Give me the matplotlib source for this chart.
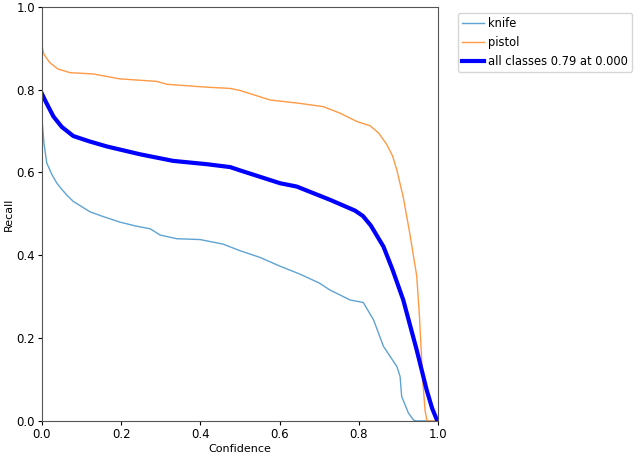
import matplotlib
matplotlib.use("Agg")
import matplotlib.pyplot as plt

# recall vs confidence
knife_conf = [0.0, 0.005, 0.012, 0.025, 0.037, 0.045, 0.062, 0.079, 0.096,
              0.121, 0.15, 0.197, 0.24, 0.273, 0.298, 0.34, 0.399, 0.457,
              0.5, 0.55, 0.6, 0.65, 0.7, 0.727, 0.778, 0.811, 0.837, 0.862,
              0.896, 0.904, 0.908, 0.925, 0.938, 0.945, 1.0]
knife_recall = [0.73, 0.67, 0.623, 0.595, 0.575, 0.565, 0.546, 0.53, 0.52,
                0.505, 0.495, 0.48, 0.47, 0.464, 0.449, 0.44, 0.438, 0.427,
                0.411, 0.395, 0.374, 0.355, 0.333, 0.316, 0.292, 0.286,
                0.244, 0.18, 0.131, 0.107, 0.059, 0.019, 0.002, 0.0, 0.0]

pistol_conf = [0.0, 0.005, 0.02, 0.04, 0.071, 0.129, 0.197, 0.29, 0.315,
               0.416, 0.475, 0.5, 0.576, 0.65, 0.71, 0.753, 0.795, 0.828,
               0.85, 0.87, 0.885, 0.896, 0.912, 0.929, 0.946, 0.953, 0.961,
               0.967, 0.972, 1.0]
pistol_recall = [0.905, 0.885, 0.865, 0.85, 0.841, 0.838, 0.826, 0.82, 0.813,
                 0.806, 0.803, 0.798, 0.775, 0.767, 0.759, 0.743, 0.723,
                 0.713, 0.695, 0.668, 0.64, 0.605, 0.54, 0.45, 0.35, 0.25,
                 0.1, 0.025, 0.0, 0.0]

all_conf = [0.0, 0.01, 0.029, 0.05, 0.079, 0.12, 0.163, 0.247, 0.331, 0.416,
            0.475, 0.5, 0.601, 0.643, 0.727, 0.79, 0.81, 0.83, 0.862, 0.885,
            0.912, 0.946, 0.971, 0.985, 0.998]
all_recall = [0.79, 0.77, 0.735, 0.71, 0.688, 0.675, 0.663, 0.644, 0.628,
              0.62, 0.613, 0.605, 0.574, 0.566, 0.534, 0.508, 0.495, 0.472,
              0.421, 0.365, 0.292, 0.171, 0.075, 0.03, 0.0]

series = [("knife", knife_conf, knife_recall, "#5fa3d3", 1.0),
          ("pistol", pistol_conf, pistol_recall, "#ff9a45", 1.0),
          ("all classes 0.79 at 0.000", all_conf, all_recall, "blue", 3.0)]

fig = plt.figure(figsize=(6.41, 4.57), dpi=100)
ax = fig.add_axes([0.0655, 0.079, 0.618, 0.906])

for label, x, y, color, lw in series:
    ax.plot(x, y, color=color, linewidth=lw, label=label)

ax.set_xlim(0, 1)
ax.set_ylim(0, 1)
ax.set_xlabel("Confidence", fontsize=8, labelpad=2)
ax.set_ylabel("Recall", fontsize=8, labelpad=2)
ax.tick_params(labelsize=8.5, length=3, pad=2)
for s in ax.spines.values():
    s.set_color("#555555")

ax.legend(bbox_to_anchor=(1.05, 0.985), loc="upper left", fontsize=8.3,
          borderaxespad=0, borderpad=0.35, handlelength=1.9, handletextpad=0.4)

fig.savefig("out.png", dpi=100)
